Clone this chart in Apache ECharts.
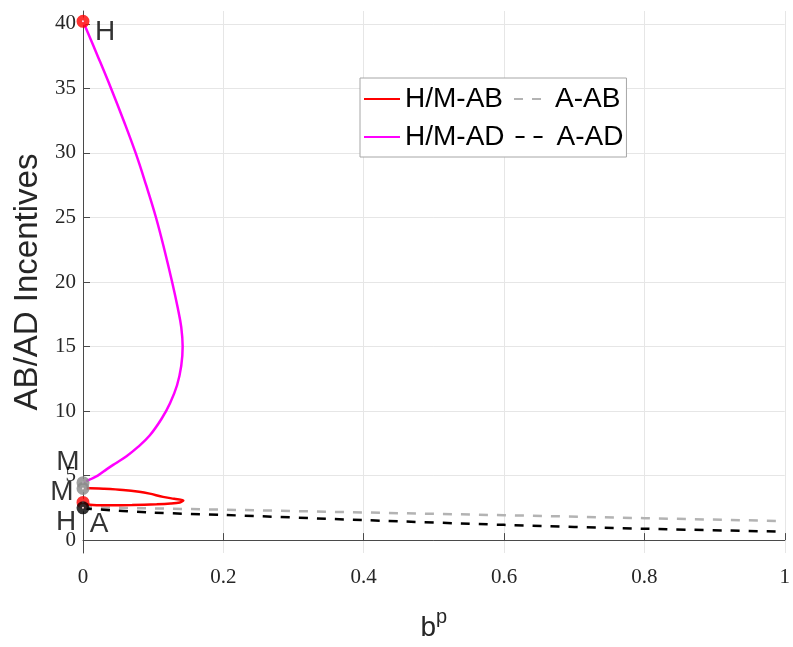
<!DOCTYPE html>
<html>
<head>
<meta charset="utf-8">
<script src="https://cdn.jsdelivr.net/npm/echarts@6/dist/echarts.min.js"></script>
<style>
html,body{margin:0;padding:0;background:#fff;}
#chart{width:793px;height:647px;}
</style>
</head>
<body>
<div id="chart"></div>
<script>
// ---- data ----
var yTicks = [0, 5, 10, 15, 20, 25, 30, 35, 40];
var xTicks = [0, 0.2, 0.4, 0.6, 0.8, 1];

// H/M-AB (red loop)
var hmAB = [
  [0, 4.0], [0.01, 4.02], [0.03, 3.98], [0.057, 3.89], [0.08, 3.75], [0.095, 3.6],
  [0.114, 3.35], [0.13, 3.2], [0.143, 3.07],
  [0.138, 2.92], [0.125, 2.83], [0.105, 2.77], [0.07, 2.72], [0.034, 2.7], [0.01, 2.74], [0, 2.9]
];
// H/M-AD (magenta)
var hmAD = [
  [0, 40.2], [0.021, 37.5], [0.040, 35], [0.058, 32.5], [0.075, 30], [0.090, 27.5],
  [0.104, 25], [0.116, 22.5], [0.127, 20], [0.135, 18], [0.140, 16.5], [0.142, 15],
  [0.140, 13.5], [0.134, 12], [0.124, 10.6], [0.112, 9.4], [0.095, 8.1],
  [0.078, 7.2], [0.062, 6.5], [0.045, 5.9], [0.034, 5.5], [0.021, 5.0], [0.01, 4.7], [0, 4.45]
];
// A-AB (gray dashed)
var aAB = [[0, 2.55], [0.2, 2.36], [0.4, 2.14], [0.6, 1.93], [0.8, 1.70], [1, 1.47]];
// A-AD (black dashed)
var aAD = [[0, 2.45], [0.1, 2.13], [0.2, 1.95], [0.4, 1.55], [0.6, 1.18], [0.8, 0.88], [1, 0.65]];

// end-point markers
var markerPts = [
  {value: [0, 40.2], color: '#ff0000', text: 'H', offset: [22, 11]},
  {value: [0, 4.45], color: '#888888', text: 'M', offset: [-15, -20]},
  {value: [0, 4.0],  color: '#888888', text: 'M', offset: [-21, 4]},
  {value: [0, 2.92], color: '#ff0000', text: 'H', offset: [-17, 20]},
  {value: [0, 2.5],  color: '#000000', text: 'A', offset: [16, 16]}
];

var chart = echarts.init(document.getElementById('chart'), null, {renderer: 'canvas'});
var serif = '"Liberation Serif", "DejaVu Serif", serif';
var sans = '"Liberation Sans", Arial, sans-serif';
var axisCol = '#4a4a4a';

var option = {
  animation: false,
  backgroundColor: '#fff',
  grid: {left: 83, right: 7, top: 11, bottom: 89, containLabel: false},
  legend: {
    data: ['H/M-AB', 'A-AB', 'H/M-AD', 'A-AD'],
    left: 360, top: 78, width: 300,
    orient: 'horizontal',
    itemWidth: 36, itemHeight: 26, itemGap: 10,
    padding: [7, 3, 6, 3],
    borderColor: '#a6a6a6', borderWidth: 1, backgroundColor: '#fff',
    itemStyle: {opacity: 0, borderWidth: 0},
    textStyle: {fontFamily: sans, fontSize: 28, color: '#000', lineHeight: 26}
  },
  xAxis: {
    type: 'value', min: 0, max: 1, interval: 0.2,
    name: '{b|b}{p|p}', nameLocation: 'middle', nameGap: 54,
    nameTextStyle: {
      rich: {
        b: {fontFamily: sans, fontSize: 28, color: '#262626'},
        p: {fontFamily: sans, fontSize: 20, color: '#262626', padding: [0, 0, 22, 0]}
      }
    },
    axisLine: {show: true, lineStyle: {color: axisCol, width: 1}},
    axisTick: {show: true, inside: true, length: 7, lineStyle: {color: axisCol}},
    axisLabel: {fontFamily: serif, fontSize: 21, color: '#262626', margin: 14},
    splitLine: {show: true, lineStyle: {color: '#e6e6e6', width: 1}}
  },
  yAxis: {
    type: 'value', min: -1, max: 41,
    name: 'AB/AD Incentives', nameLocation: 'middle', nameGap: 33, nameRotate: 90,
    nameTextStyle: {fontFamily: sans, fontSize: 33, color: '#262626'},
    axisLine: {show: true, onZero: false, lineStyle: {color: axisCol, width: 1}},
    axisTick: {show: true, inside: true, length: 7, lineStyle: {color: axisCol}, customValues: yTicks},
    axisLabel: {fontFamily: serif, fontSize: 21, color: '#262626', margin: 7, customValues: yTicks},
    splitLine: {show: true, lineStyle: {color: '#e6e6e6', width: 1}}
  },
  series: [
    {name: 'H/M-AB', type: 'line', data: hmAB, symbol: 'none', smooth: 0.3,
     lineStyle: {color: '#ff0000', width: 2.5}, itemStyle: {color: '#ff0000'}, z: 3},
    {name: 'A-AB', type: 'line', data: aAB, symbol: 'none',
     lineStyle: {color: '#b3b3b3', width: 2.5, type: [9, 9]}, itemStyle: {color: '#b3b3b3'}, z: 2},
    {name: 'H/M-AD', type: 'line', data: hmAD, symbol: 'none', smooth: 0.4,
     lineStyle: {color: '#ff00ff', width: 2.5}, itemStyle: {color: '#ff00ff'}, z: 3},
    {name: 'A-AD', type: 'line', data: aAD, symbol: 'none', smooth: 0.3,
     lineStyle: {color: '#000000', width: 2.5, type: [9, 9]}, itemStyle: {color: '#000000'}, z: 2},
    {type: 'scatter', clip: false, z: 5, symbol: 'circle', symbolSize: 7.5,
     data: markerPts.map(function (m) {
       return {
         value: m.value,
         itemStyle: {color: '#ffffff', borderColor: m.color, borderWidth: 5.5},
         label: {show: true, formatter: m.text, position: 'inside', offset: m.offset,
                 fontFamily: sans, fontSize: 28, color: '#000'}
       };
     })}
  ]
};
chart.setOption(option);
</script>
</body>
</html>
